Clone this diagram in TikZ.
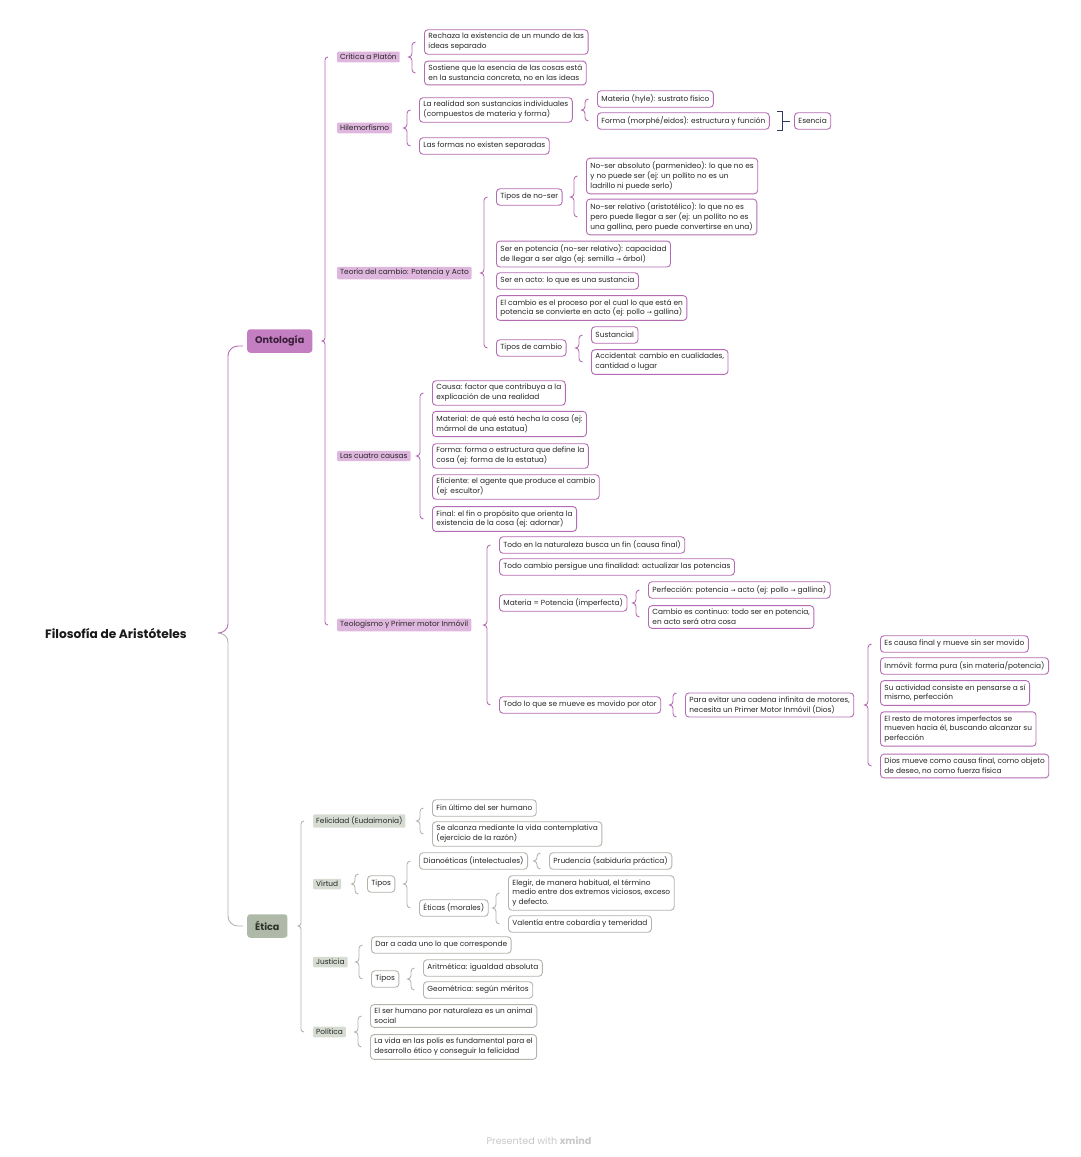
\documentclass[tikz,border=0pt]{standalone}
\usepackage{fontspec}
\setmainfont{Poppins}
\newfontfamily\symf{DejaVu Sans}
\usetikzlibrary{calc}
\definecolor{pur}{HTML}{B56BB3}
\definecolor{purfill}{HTML}{C47FC3}
\definecolor{purlight}{HTML}{DFB7DE}
\definecolor{purtxt}{HTML}{3A1F3A}
\definecolor{grn}{HTML}{B1B6AC}
\definecolor{grnfill}{HTML}{AEB9A8}
\definecolor{grnlight}{HTML}{D6DCD1}
\definecolor{grntxt}{HTML}{2C3328}
\definecolor{navy}{HTML}{2E3A5C}
\definecolor{txt}{HTML}{262626}
\newcommand\rarr{{\symf\fontsize{6}{6}\selectfont →}}
\newcommand\brc[7]{% style, parent, top child, bottom child, dx, extra span, radius
  \draw[#1] let \p1=(#2.center), \p2=(#3.west), \p3=(#4.west) in
  ({\x2-#5+#7},{\y2+#6}) to[out=180,in=90] ({\x2-#5},{\y2+#6-#7})
  -- ({\x2-#5},{\y1+#7}) to[out=-90,in=0] ({\x2-#5-#7},\y1)
  to[out=0,in=90] ({\x2-#5},{\y1-#7})
  -- ({\x2-#5},{\y3-#6+#7}) to[out=-90,in=180] ({\x2-#5+#7},{\y3-#6});}
\tikzset{
  every node/.style={font=\fontsize{7.4}{9.8}\selectfont, text=txt},
  ob/.style={draw=pur, line width=0.9pt, fill=white, rounded corners=3.5pt, align=left,
    inner xsep=4pt, inner ysep=3.6pt, minimum height=16.5pt, anchor=west},
  eb/.style={ob, draw=grn},
  otwo/.style={fill=purlight, rounded corners=1pt, inner xsep=3pt, inner ysep=2.4pt, anchor=west},
  etwo/.style={otwo, fill=grnlight},
  brO/.style={draw=pur, line width=0.9pt},
  brE/.style={draw=grn, line width=0.9pt},
  mainnode/.style={rounded corners=3pt, anchor=west, minimum height=23.5pt, inner xsep=8pt,
    font=\fontsize{9.6}{11}\selectfont\bfseries},
}
\begin{document}
\begin{tikzpicture}[x=1pt,y=-1pt]
\useasboundingbox (0,0) rectangle (1080,1157);

% root and main nodes
\node[anchor=west, inner sep=0pt, font=\fontsize{12.2}{14}\selectfont\bfseries, text=black!90] (root) at (45,633) {Filosofía de Aristóteles};
\node[mainnode, fill=purfill, text=purtxt] (ont) at (247,341) {Ontología};
\node[mainnode, fill=grnfill, text=grntxt] (eti) at (247,926) {Ética};

% root brace (two colours)
\draw[brO] let \p1=(root.east), \p2=(ont.west) in
  ({\x2-4pt},{\y2-5pt}) -- ({\x2-9pt},{\y2-5pt}) to[out=180,in=90] ({\x2-19pt},{\y2-15pt})
  -- ({\x2-19pt},{\y1+9pt}) to[out=-90,in=0] ({\x2-29pt},\y1);
\draw[brE] let \p1=(root.east), \p2=(eti.west) in
  ({\x2-29pt},\y1) to[out=0,in=90] ({\x2-19pt},{\y1-9pt})
  -- ({\x2-19pt},{\y2+10pt}) to[out=-90,in=180] ({\x2-9pt},\y2) -- ({\x2-4pt},\y2);

% ---------------- Ontología ----------------
\node[otwo] (c1) at (337,57) {Crítica a Platón};
\node[otwo] (c2) at (337,128) {Hilemorfismo};
\node[otwo] (c3) at (337,273) {Teoría del cambio: Potencia y Acto};
\node[otwo] (c4) at (337,456) {Las cuatro causas};
\node[otwo] (c5) at (337,625) {Teologismo y Primer motor Inmóvil};
\brc{brO}{ont}{c1}{c5}{12pt}{0pt}{3pt}

% Crítica a Platón
\node[ob] (a1) at (424,42) {Rechaza la existencia de un mundo de las\\ideas separado};
\node[ob] (a2) at (424,73) {Sostiene que la esencia de las cosas está\\en la sustancia concreta, no en las ideas};
\brc{brO}{c1}{a1}{a2}{12pt}{0pt}{3.5pt}

% Hilemorfismo
\node[ob] (h1) at (419,110) {La realidad son sustancias individuales\\(compuestos de materia y forma)};
\node[ob] (h2) at (419,146) {Las formas no existen separadas};
\brc{brO}{c2}{h1}{h2}{12pt}{0pt}{3.5pt}
\node[ob] (h11) at (597,99) {Materia (hyle): sustrato físico};
\node[ob] (h12) at (597,121) {Forma (morphé/eidos): estructura y función};
\brc{brO}{h1}{h11}{h12}{12pt}{0pt}{3.5pt}
\node[ob] (es) at (794,121) {Esencia};
\draw[navy, line width=1pt] ($(h12.north east)+(7,-1)$) -- ++(6,0) -- ($(h12.south east)+(13,1)$) -- ++(-6,0);
\draw[navy, line width=1pt, shorten >=4pt] ($(h12.east)+(13,0)$) -- (es.west);

% Teoría del cambio
\node[ob] (t1) at (496,197) {Tipos de no-ser};
\node[ob] (t2) at (496,254) {Ser en potencia (no-ser relativo): capacidad\\de llegar a ser algo (ej: semilla \rarr\ árbol)};
\node[ob] (t3) at (496,281) {Ser en acto: lo que es una sustancia};
\node[ob] (t4) at (496,308) {El cambio es el proceso por el cual lo que está en\\potencia se convierte en acto (ej: pollo \rarr\ gallina)};
\node[ob] (t5) at (496,348) {Tipos de cambio};
\brc{brO}{c3}{t1}{t5}{12pt}{0pt}{3.5pt}
\node[ob] (t11) at (586,176) {No-ser absoluto (parmenideo): lo que no es\\y no puede ser (ej: un pollito no es un\\ladrillo ni puede serlo)};
\node[ob] (t12) at (586,217) {No-ser relativo (aristotélico): lo que no es\\pero puede llegar a ser (ej: un pollito no es\\una gallina, pero puede convertirse en una)};
\brc{brO}{t1}{t11}{t12}{12pt}{0pt}{3.5pt}
\node[ob] (t51) at (591,335) {Sustancial};
\node[ob] (t52) at (591,362) {Accidental: cambio en cualidades,\\cantidad o lugar};
\brc{brO}{t5}{t51}{t52}{12pt}{0pt}{3.5pt}

% Las cuatro causas
\node[ob] (k1) at (432,393) {Causa: factor que contribuya a la\\explicación de una realidad};
\node[ob] (k2) at (432,424) {Material: de qué está hecha la cosa (ej:\\mármol de una estatua)};
\node[ob] (k3) at (432,456) {Forma: forma o estructura que define la\\cosa (ej: forma de la estatua)};
\node[ob] (k4) at (432,487) {Eficiente: el agente que produce el cambio\\(ej: escultor)};
\node[ob] (k5) at (432,519) {Final: el fin o propósito que orienta la\\existencia de la cosa (ej: adornar)};
\brc{brO}{c4}{k1}{k5}{12pt}{0pt}{3.5pt}

% Teologismo
\node[ob] (g1) at (499,545) {Todo en la naturaleza busca un fin (causa final)};
\node[ob] (g2) at (499,567) {Todo cambio persigue una finalidad: actualizar las potencias};
\node[ob] (g3) at (499,603) {Materia = Potencia (imperfecta)};
\node[ob] (g4) at (499,705) {Todo lo que se mueve es movido por otor};
\brc{brO}{c5}{g1}{g4}{12pt}{0pt}{3.5pt}
\node[ob] (g31) at (648,590) {Perfección: potencia \rarr\ acto (ej: pollo \rarr\ gallina)};
\node[ob] (g32) at (648,617) {Cambio es continuo: todo ser en potencia,\\en acto será otra cosa};
\brc{brO}{g3}{g31}{g32}{12pt}{0pt}{3.5pt}
\node[ob] (g41) at (685,705) {Para evitar una cadena infinita de motores,\\necesita un Primer Motor Inmóvil (Dios)};
\brc{brO}{g4}{g41}{g41}{12pt}{12pt}{3.5pt}
\node[ob] (m1) at (880,644) {Es causa final y mueve sin ser movido};
\node[ob] (m2) at (880,666) {Inmóvil: forma pura (sin materia/potencia)};
\node[ob] (m3) at (880,693) {Su actividad consiste en pensarse a sí\\mismo, perfección};
\node[ob] (m4) at (880,729) {El resto de motores imperfectos se\\mueven hacia él, buscando alcanzar su\\perfección};
\node[ob] (m5) at (880,766) {Dios mueve como causa final, como objeto\\de deseo, no como fuerza física};
\brc{brO}{g41}{m1}{m5}{12pt}{0pt}{3.5pt}

% ---------------- Ética ----------------
\node[etwo] (e1) at (313,821) {Felicidad (Eudaimonia)};
\node[etwo] (e2) at (313,884) {Virtud};
\node[etwo] (e3) at (313,962) {Justicia};
\node[etwo] (e4) at (313,1032) {Política};
\brc{brE}{eti}{e1}{e4}{12pt}{0pt}{3pt}

\node[eb] (f1) at (432,808) {Fin último del ser humano};
\node[eb] (f2) at (432,834) {Se alcanza mediante la vida contemplativa\\(ejercicio de la razón)};
\brc{brE}{e1}{f1}{f2}{12pt}{0pt}{3.5pt}

\node[eb] (v1) at (367,884) {Tipos};
\brc{brE}{e2}{v1}{v1}{12pt}{10pt}{3.5pt}
\node[eb] (v11) at (419,861) {Dianoéticas (intelectuales)};
\node[eb] (v12) at (419,908) {Éticas (morales)};
\brc{brE}{v1}{v11}{v12}{12pt}{0pt}{3.5pt}
\node[eb] (v111) at (549,861) {Prudencia (sabiduría práctica)};
\brc{brE}{v11}{v111}{v111}{12pt}{8pt}{3.5pt}
\node[eb] (v121) at (508,893) {Elegir, de manera habitual, el término\\medio entre dos extremos viciosos, exceso\\y defecto.};
\node[eb] (v122) at (508,924) {Valentía entre cobardía y temeridad};
\brc{brE}{v12}{v121}{v122}{12pt}{0pt}{3.5pt}

\node[eb] (j1) at (371,945) {Dar a cada uno lo que corresponde};
\node[eb] (j2) at (371,979) {Tipos};
\brc{brE}{e3}{j1}{j2}{12pt}{0pt}{3.5pt}
\node[eb] (j21) at (423,968) {Aritmética: igualdad absoluta};
\node[eb] (j22) at (423,990) {Geométrica: según méritos};
\brc{brE}{j2}{j21}{j22}{12pt}{0pt}{3.5pt}

\node[eb] (p1) at (370,1016) {El ser humano por naturaleza es un animal\\social};
\node[eb] (p2) at (370,1047) {La vida en las polis es fundamental para el\\desarrollo ético y conseguir la felicidad};
\brc{brE}{e4}{p1}{p2}{12pt}{0pt}{3.5pt}

% footer
\node[text=black!22, font=\fontsize{9.6}{11}\selectfont] (foot) at (539,1141) {Presented with \textbf{xmind}};
\end{tikzpicture}
\end{document}
